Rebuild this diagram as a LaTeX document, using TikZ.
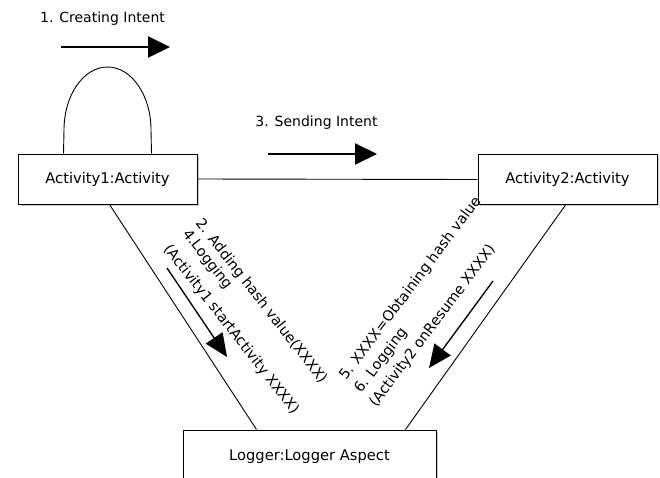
\documentclass[tikz,border=0pt]{standalone}
\usepackage{fontspec}
\setmainfont{DejaVu Sans}
\usetikzlibrary{arrows.meta,shadows}
\begin{document}
\begin{tikzpicture}[x=1pt,y=-1pt,
  objbox/.style={draw, line width=1pt, fill=white, inner sep=0pt,
    minimum width=179pt, minimum height=50pt,
    font=\fontsize{14.7}{17}\selectfont,
    drop shadow={shadow xshift=1.5pt, shadow yshift=-1.5pt, opacity=0.4}},
  link/.style={line width=0.9pt},
  msg/.style={line width=2pt, -{Triangle[length=22pt,width=21pt]}},
  msgdiag/.style={line width=1.3pt, -{Triangle[length=23pt,width=20pt]}},
  msgshadow/.style={opacity=0.5, shift={(1.2,1.2)}},
  lbl/.style={font=\fontsize{14}{16}\selectfont, inner sep=0pt},
  rlbl/.style={font=\fontsize{14.4}{16}\selectfont, inner sep=0pt, anchor=base west}]

\useasboundingbox (0,0) rectangle (660,477);

% objects
\node[objbox] (act1) at (107.5,179) {Activity1:Activity};
\node[objbox] (act2) at (567.5,179.5) {Activity2:Activity};
\node[objbox, minimum width=253pt, minimum height=54pt] (logger) at (309.5,457) {Logger:Logger Aspect};

% links
\draw[link] (act1.east) -- (act2.west);
\draw[link] ([xshift=92pt]act1.south west) -- ([xshift=74pt]logger.north west);
\draw[link] ([xshift=88pt]act2.south west) -- ([xshift=-31pt]logger.north east);
\draw[link] ([xshift=46pt]act1.north west) -- (64,130)
  arc[start angle=180, end angle=0, x radius=43.5pt, y radius=63pt]
  -- ([xshift=-46pt]act1.north east);

% message arrows
\coordinate (m1s) at (61,47);   \coordinate (m1e) at (170,47);
\coordinate (m3s) at (268,154); \coordinate (m3e) at (377,154);
\coordinate (m2s) at (167,268); \coordinate (m2e) at (227,357);
\coordinate (m5s) at (493,281); \coordinate (m5e) at (429,368);
\begin{scope}[msgshadow]
  \draw[msg, draw=black!35] (m1s) -- (m1e);
  \draw[msg, draw=black!35] (m3s) -- (m3e);
  \draw[msgdiag, draw=black!35] (m2s) -- (m2e);
  \draw[msgdiag, draw=black!35] (m5s) -- (m5e);
\end{scope}
\draw[msg] (m1s) -- (m1e);
\draw[msg] (m3s) -- (m3e);
\draw[msgdiag] (m2s) -- (m2e);
\draw[msgdiag] (m5s) -- (m5e);

% message labels
\node[lbl] (t1) at (102.5,19) {1. Creating Intent};
\node[lbl] (t3) at (316.5,123) {3. Sending Intent};

\node[rlbl, rotate=-52] (t2) at (195,223.5) {2. Adding hash value(XXXX)};
\node[rlbl, rotate=-52] (t4) at (182,234) {4.Logging};
\node[rlbl, rotate=-52] (t4b) at (163,249) {(Activity1 startActivity XXXX)};

\node[rlbl, rotate=53] (t5) at (346,381) {5. XXXX=Obtaining hash value};
\node[rlbl, rotate=53] (t6) at (361,394) {6. Logging};
\node[rlbl, rotate=53] (t6b) at (376,408) {(Activity2 onResume XXXX)};
\end{tikzpicture}
\end{document}
